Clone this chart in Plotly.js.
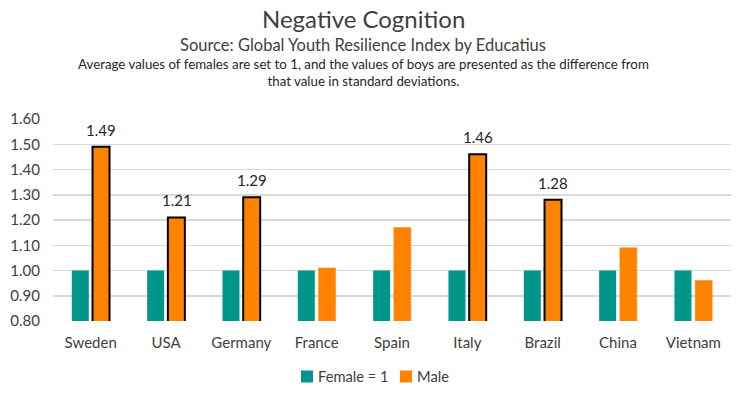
<!DOCTYPE html>
<html><head><meta charset="utf-8">
<script src="https://cdn.plot.ly/plotly-3.0.1.min.js"></script>
<style>html,body{margin:0;padding:0;background:#fff}#c{width:746px;height:399px}</style>
</head><body><div id="c"></div>
<script>
var countries = ["Sweden","USA","Germany","France","Spain","Italy","Brazil","China","Vietnam"];
var female = [1,1,1,1,1,1,1,1,1];
var male = [1.49,1.21,1.29,1.01,1.17,1.46,1.28,1.09,0.96];
var highlighted = [true,true,true,false,false,true,true,false,false];
var yTicks = [0.8,0.9,1.0,1.1,1.2,1.3,1.4,1.5,1.6];

var FONT = "Lato, 'Open Sans', sans-serif";
var TEAL = "#00968a", ORANGE = "#ff8200";
var CX = (363-53)/678; // horizontal centre of the header, in paper units

var traces = [
  {type:"bar", name:"Female = 1", x:countries, y:female,
   marker:{color:TEAL, line:{width:0}}, hoverinfo:"x+y"},
  {type:"bar", name:"Male", x:countries, y:male,
   marker:{color:ORANGE, line:{color:highlighted.map(function(h){return h?"#000":ORANGE;}),
     width:highlighted.map(function(h){return h?2:0.5;})}}, hoverinfo:"x+y"}
];

var annotations = [
  {text:"Negative Cognition", xref:"paper", yref:"paper", x:CX, y:1, xanchor:"center", yanchor:"middle",
   showarrow:false, yshift:119-18, font:{size:24, color:"#404040", family:FONT}},
  {text:"Source: Global Youth Resilience Index by Educatius", xref:"paper", yref:"paper",
   x:CX, y:1, xanchor:"center", yanchor:"middle", showarrow:false, yshift:119-45,
   font:{size:16.5, color:"#404040", family:FONT}},
  {text:"Average values of females are set to 1, and the values of boys are presented as the difference from<br>that value in standard deviations.",
   xref:"paper", yref:"paper", x:CX, y:1, xanchor:"center", yanchor:"top", showarrow:false, yshift:119-54,
   font:{size:13.3, color:"#262626", family:FONT}, align:"center"}
];

male.forEach(function(v,i){
  if(highlighted[i]){
    annotations.push({text:v.toFixed(2), x:countries[i], y:v, xref:"x", yref:"y",
      xanchor:"center", yanchor:"bottom", showarrow:false, xshift:10.5, yshift:6,
      font:{size:15, color:"#262626", family:FONT}});
  }
});

var layout = {
  width:746, height:399,
  margin:{l:53, r:15, t:119, b:78, autoexpand:false},
  paper_bgcolor:"#fff", plot_bgcolor:"#fff",
  font:{family:FONT, color:"#404040"},
  barmode:"group", bargap:0.45, bargroupgap:0.18,
  xaxis:{type:"category", showgrid:false, showline:false, zeroline:false, automargin:false,
    ticks:"outside", ticklen:8, tickcolor:"rgba(0,0,0,0)",
    tickfont:{size:15, color:"#404040"}, fixedrange:true},
  yaxis:{range:[0.8,1.6], tickvals:yTicks, tickformat:".2f", showgrid:true, gridcolor:"#d9d9d9", gridwidth:1.5,
    zeroline:false, showline:false, automargin:false, ticks:"outside", ticklen:9, tickcolor:"rgba(0,0,0,0)",
    tickfont:{size:15, color:"#404040"}, fixedrange:true},
  legend:{orientation:"h", x:(377-53)/678, xanchor:"center", y:-(377-321)/202, yanchor:"middle",
    font:{size:14.7, color:"#404040"}, traceorder:"normal", itemwidth:30, entrywidth:54},
  annotations:annotations,
  showlegend:true
};
Plotly.newPlot("c", traces, layout, {displayModeBar:false, staticPlot:true}).then(function(){
  var tr = document.querySelectorAll('.legend .traces');
  tr.forEach(function(t, k){
    var lp = t.querySelector('.legendpoints');
    if (lp) lp.setAttribute('transform', 'translate(9,0)');
    if (k === 1) t.querySelectorAll('.legendpoints path').forEach(function(p){ p.style.strokeWidth = '0px'; });
  });
});
</script></body></html>
